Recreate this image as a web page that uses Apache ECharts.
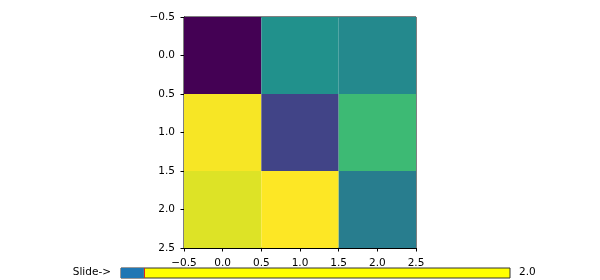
<!DOCTYPE html>
<html>
<head>
<meta charset="utf-8">
<script src="https://cdn.jsdelivr.net/npm/echarts@6/dist/echarts.min.js"></script>
<style>html,body{margin:0;padding:0;background:#fff}#c{width:600px;height:280px}</style>
</head>
<body>
<div id="c"></div>
<script>
// Data
const rowIdx = [0, 1, 2];
const colIdx = [0, 1, 2];
const row0 = [0.00, 0.50, 0.47];
const row1 = [0.99, 0.20, 0.68];
const row2 = [0.95, 1.00, 0.42];
const tickValues = [-0.5, 0.0, 0.5, 1.0, 1.5, 2.0, 2.5];
const sliderLabel = 'Slide->';
const sliderMin = 0;
const sliderMax = 34;
const sliderValue = 2.0;

const viridis = ['#440154','#482475','#414487','#355f8d','#2a788e','#21918c','#22a884','#44bf70','#7ad151','#bddf26','#fde725'];

const rowsData = [row0, row1, row2];
const cells = [];
rowIdx.forEach(r => colIdx.forEach(c => cells.push([c, r, rowsData[r][c]])));

const fmt = v => v.toFixed(1).replace('-', '\u2212');
const font = 'DejaVu Sans';

const chart = echarts.init(document.getElementById('c'), null, {renderer: 'canvas'});
chart.setOption({
  animation: false,
  textStyle: {fontFamily: font},
  grid: [
    {left: 184, top: 17, width: 232, height: 231, show: true, borderColor: '#000', borderWidth: 1, backgroundColor: 'transparent'},
    {left: 121, top: 268, width: 389, height: 10, show: true, borderColor: '#333', borderWidth: 1, backgroundColor: '#ffff00'}
  ],
  visualMap: {show: false, seriesIndex: 0, dimension: 2, min: 0, max: 1, inRange: {color: viridis}},
  xAxis: [
    {type: 'value', gridIndex: 0, min: tickValues[0], max: tickValues[tickValues.length-1], interval: 0.5,
     axisLine: {show: true, onZero: false, lineStyle: {color: '#000', width: 1}},
     axisTick: {show: true, inside: false, length: 3.5, lineStyle: {color: '#000'}},
     axisLabel: {color: '#000', fontSize: 10.5, fontFamily: font, margin: 9.5, formatter: fmt, showMinLabel: true, showMaxLabel: true},
     splitLine: {show: false}},
    {type: 'value', gridIndex: 1, min: sliderMin, max: sliderMax, show: false}
  ],
  yAxis: [
    {type: 'value', gridIndex: 0, min: tickValues[0], max: tickValues[tickValues.length-1], interval: 0.5, inverse: true,
     axisLine: {show: true, onZero: false, lineStyle: {color: '#000', width: 1}},
     axisTick: {show: true, inside: false, length: 3.5, lineStyle: {color: '#000'}},
     axisLabel: {color: '#000', fontSize: 10.5, fontFamily: font, margin: 9, formatter: fmt, showMinLabel: true, showMaxLabel: true},
     splitLine: {show: false}},
    {type: 'category', gridIndex: 1, data: [sliderLabel], show: false}
  ],
  series: [
    {
      type: 'custom', xAxisIndex: 0, yAxisIndex: 0, data: cells, silent: true,
      renderItem: function (params, api) {
        const x = api.value(0), y = api.value(1);
        const p0 = api.coord([x - 0.5, y - 0.5]);
        const p1 = api.coord([x + 0.5, y + 0.5]);
        return {type: 'rect',
          shape: {x: Math.min(p0[0], p1[0]), y: Math.min(p0[1], p1[1]), width: Math.abs(p1[0] - p0[0]), height: Math.abs(p1[1] - p0[1])},
          style: {fill: api.visual('color')}};
      }
    },
    {
      type: 'bar', xAxisIndex: 1, yAxisIndex: 1, data: [sliderValue], barWidth: '100%', barCategoryGap: '0%', silent: true,
      itemStyle: {color: '#1f77b4'},
      markLine: {silent: true, symbol: 'none', label: {show: false}, lineStyle: {color: '#d62728', type: 'solid', width: 1},
                 data: [{xAxis: sliderValue}]}
    }
  ],
  graphic: [
    {type: 'text', right: 600 - 111, top: 266.5, style: {text: sliderLabel, fontFamily: font, fontSize: 10.5, fill: '#000'}},
    {type: 'text', left: 519, top: 266.5, style: {text: sliderValue.toFixed(1), fontFamily: font, fontSize: 10.5, fill: '#000'}}
  ]
});
</script>
</body>
</html>
